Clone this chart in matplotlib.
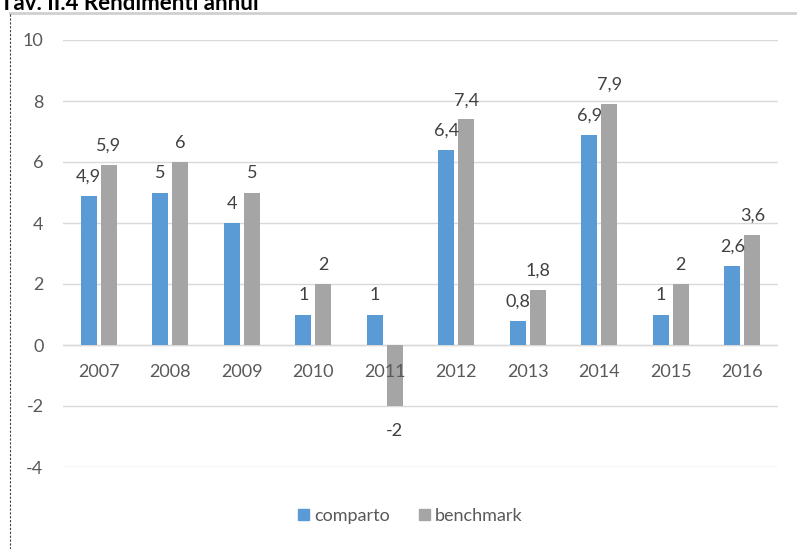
import matplotlib.pyplot as plt
from matplotlib.lines import Line2D
from matplotlib.patches import Patch
import numpy as np

plt.rcParams['font.family'] = ['Lato', 'DejaVu Sans']

anni = ['2007', '2008', '2009', '2010', '2011', '2012', '2013', '2014', '2015', '2016']
comparto = [4.9, 5, 4, 1, 1, 6.4, 0.8, 6.9, 1, 2.6]
benchmark = [5.9, 6, 5, 2, -2, 7.4, 1.8, 7.9, 2, 3.6]
yticks = [-4, -2, 0, 2, 4, 6, 8, 10]

blu = '#5B9BD5'
grigio = '#A5A5A5'
testo = '#595959'


def fmt(v):
    return ('%g' % v).replace('.', ',')


fig = plt.figure(figsize=(7.97, 5.49), dpi=100)
ax = fig.add_axes([63 / 797, 1 - 467 / 549, 715 / 797, 427 / 549])

x = np.arange(len(anni))
w = 0.225
b1 = ax.bar(x - 0.14, comparto, w, color=blu, zorder=3)
b2 = ax.bar(x + 0.14, benchmark, w, color=grigio, zorder=3)

for bars, vals in [(b1, comparto), (b2, benchmark)]:
    for rect, v in zip(bars, vals):
        cx = rect.get_x() + rect.get_width() / 2
        off = 8 if v >= 0 else -12
        ax.annotate(fmt(v), (cx, v), xytext=(0, off), textcoords='offset points',
                    ha='center', va='bottom' if v >= 0 else 'top',
                    fontsize=13, color='#404040')

# etichette delle categorie sull'asse dello zero (come in Excel, sopra le barre)
for i, a in enumerate(anni):
    ax.annotate(a, (i, 0), xytext=(0, -14), textcoords='offset points',
                ha='center', va='top', fontsize=13, color=testo, zorder=5)

ax.set_xlim(-0.5, len(anni) - 0.5)
ax.set_ylim(-4, 10)
ax.set_yticks(yticks)
ax.set_yticklabels([str(t) for t in yticks], fontsize=13, color=testo)
ax.tick_params(axis='y', length=0, pad=14)
ax.set_xticks([])
ax.grid(axis='y', color='#D9D9D9', linewidth=1, zorder=0)
ax.axhline(0, color='#D9D9D9', linewidth=1, zorder=2)
for s in ax.spines.values():
    s.set_visible(False)

handles = [Patch(color=blu, label='comparto'), Patch(color=grigio, label='benchmark')]
fig.legend(handles=handles, loc='center', bbox_to_anchor=(0.515, 1 - 516 / 549),
           ncol=2, frameon=False, fontsize=13, handlelength=0.6, handleheight=0.6,
           handletextpad=0.3, columnspacing=1.6, labelcolor=testo)

# cornice e titolo (tagliato in alto come nell'originale)
fig.add_artist(Line2D([10 / 797, 1], [1 - 13 / 549] * 2, color='#D0D0D0', linewidth=2))
fig.add_artist(Line2D([10 / 797] * 2, [0, 1 - 13 / 549], color='#404040',
                      linewidth=0.8, linestyle=(0, (2, 1.5))))
fig.text(0.0, 1 - 10 / 549, 'Tav. II.4 Rendimenti annui', fontsize=16,
         fontweight='bold', ha='left', va='baseline', color='black')

fig.savefig('out.png', dpi=100)
